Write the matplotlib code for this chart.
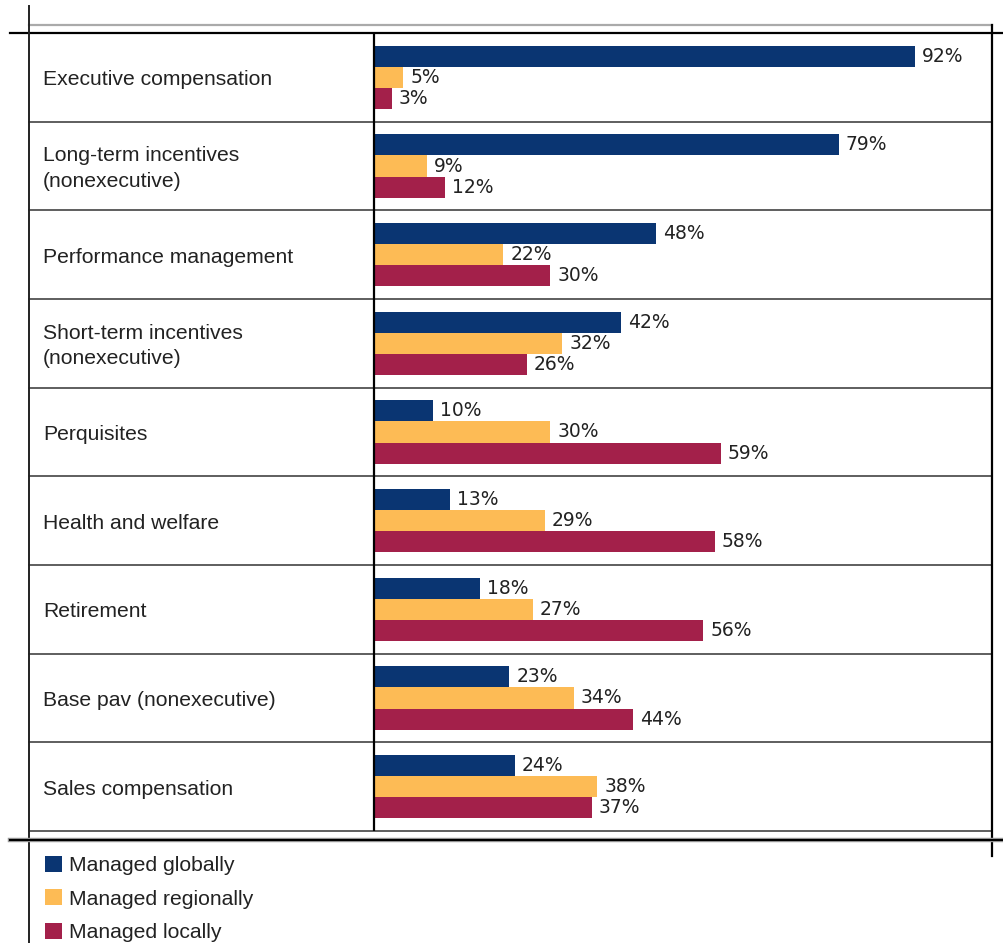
import numpy as np
import matplotlib
matplotlib.use("Agg")
import matplotlib.pyplot as plt
from matplotlib.lines import Line2D
from matplotlib.transforms import blended_transform_factory

categories = [
    "Executive compensation",
    "Long-term incentives\n(nonexecutive)",
    "Performance management",
    "Short-term incentives\n(nonexecutive)",
    "Perquisites",
    "Health and welfare",
    "Retirement",
    "Base pav (nonexecutive)",
    "Sales compensation",
]
series_names = ["Managed globally", "Managed regionally", "Managed locally"]
globally = [92, 79, 48, 42, 10, 13, 18, 23, 24]
regionally = [5, 9, 22, 32, 30, 29, 27, 34, 38]
locally = [3, 12, 30, 26, 59, 58, 56, 44, 37]

colors = ["#0a3572", "#fdbb55", "#a3204a"]
text_color = "#222222"

W, H = 1004, 943
fig = plt.figure(figsize=(W / 100, H / 100), dpi=100)


def fx(px):
    return px / W


def fy(py):
    return 1 - py / H


# table area in pixels
left, right, top, bottom = 29, 992, 33, 831
zero_px = 374          # where the value column starts
px_per_pct = 5.88

ax = fig.add_axes([fx(left), fy(bottom), fx(right) - fx(left), fy(top) - fy(bottom)])
ax.set_xlim(-(zero_px - left) / px_per_pct, (right - zero_px) / px_per_pct)
n = len(categories)
ax.set_ylim(n, 0)
ax.axis("off")

bar_h = 0.237
y = np.arange(n) + 0.5
for k, (vals, c, name) in enumerate(zip([globally, regionally, locally], colors, series_names)):
    pos = y + (k - 1) * bar_h
    ax.barh(pos, vals, height=bar_h, color=c, label=name, linewidth=0)
    for p, v in zip(pos, vals):
        ax.annotate(f"{v}%", (v, p), xytext=(5, 0), textcoords="offset points",
                    va="center", ha="left", fontsize=13.5, color=text_color,
                    family="DejaVu Sans")

# category labels in the left column
lab_tr = blended_transform_factory(fig.transFigure, ax.transData)
for yi, cat in zip(y, categories):
    ax.text(fx(43), yi + 0.03, cat, transform=lab_tr, va="center", ha="left",
            fontsize=15.2, color=text_color, family="Liberation Sans",
            linespacing=1.45)

# row separators and column divider
for r in range(1, n + 1):
    ax.axhline(r, color="#333333", lw=1.1, clip_on=False)
ax.axvline(0, color="black", lw=1.6)

# outer frame lines
def fline(x0, y0, x1, y1, **kw):
    fig.add_artist(Line2D([fx(x0), fx(x1)], [fy(y0), fy(y1)], transform=fig.transFigure, **kw))


fline(29, 25, 992, 25, color="#aaaaaa", lw=1.6)
fline(10, 33, 1004, 33, color="black", lw=1.6)
fline(29, 6, 29, 943, color="#222222", lw=1.4)
fline(992, 25, 992, 856, color="black", lw=1.6)
fline(10, 840, 1003, 840, color="#999999", lw=3.2)
fline(10, 840, 1003, 840, color="black", lw=1.5)

handles, labels = ax.get_legend_handles_labels()
fig.legend(handles, labels, loc="upper left", bbox_to_anchor=(fx(45), fy(856)),
           frameon=False, borderpad=0, borderaxespad=0, handlelength=0.8,
           handleheight=0.8, handletextpad=0.35, labelspacing=0.66,
           prop={"family": "Liberation Sans", "size": 15.2}, labelcolor=text_color)

fig.savefig("out.png", dpi=100)
